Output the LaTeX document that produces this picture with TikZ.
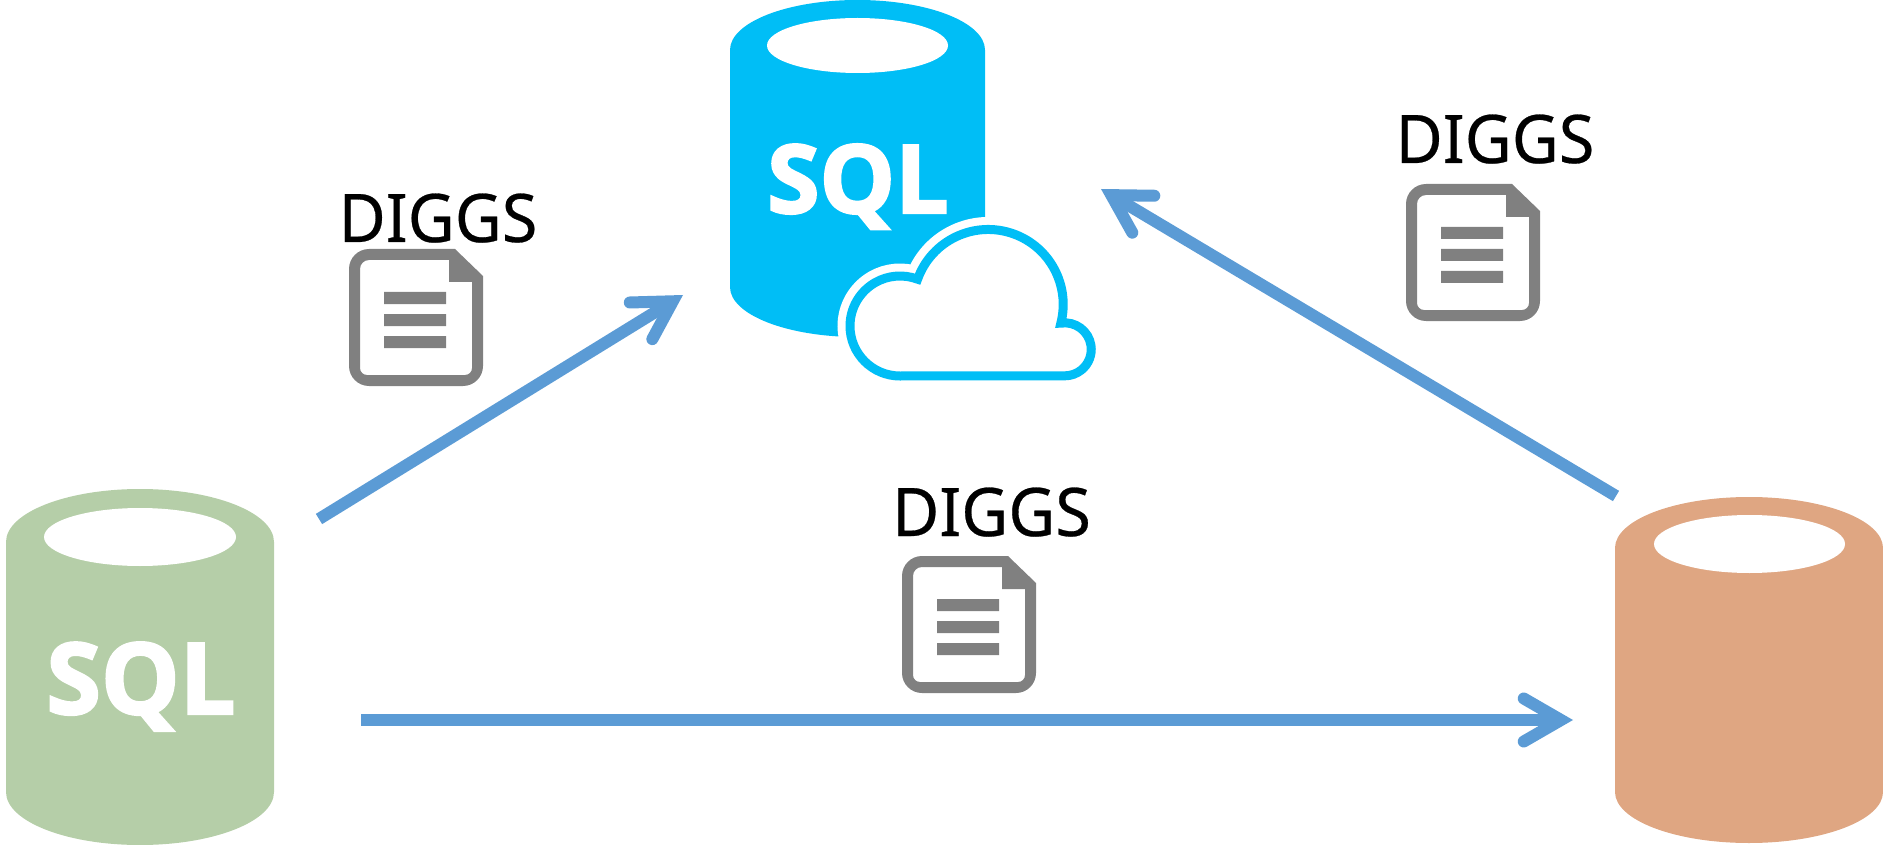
\documentclass[tikz,border=0pt]{standalone}
\usepackage{fontspec}
\setmainfont{Noto Sans}[FakeStretch=0.965,FakeBold=0.4]
\newfontfamily\sqlfont{Open Sans}[BoldFeatures={FakeBold=2.4}]
\usetikzlibrary{calc}
\definecolor{dbgreen}{HTML}{B5CEA8}
\definecolor{dbblue}{HTML}{00BEF6}
\definecolor{dborange}{HTML}{DFA682}
\definecolor{flowblue}{HTML}{5B9BD5}
\definecolor{docgray}{HTML}{808080}
\tikzset{
  x=1pt,y=1pt,
  sqltext/.style={inner sep=0pt,anchor=base,text=white,font=\sqlfont\bfseries},
  diggs/.style={inner sep=0pt,anchor=base,text=black,font=\fontsize{67}{67}\selectfont},
  flowline/.style={draw=flowblue,line width=12pt,line cap=butt},
  flowhead/.style={draw=flowblue,line width=12pt,line cap=round,line join=miter,miter limit=10},
  cloudline/.style={draw=dbblue,fill=white,line width=9pt,line join=miter,miter limit=10},
  cloudhalo/.style={draw=white,fill=white,line width=25pt,line join=miter,miter limit=10},
  docicon/.pic={
    \fill[docgray,even odd rule]
      (0,-20) arc[start angle=180,end angle=90,radius=20] -- (106,0) -- (134,-27) -- (134,-117)
      arc[start angle=0,end angle=-90,radius=20] -- (20,-137) arc[start angle=270,end angle=180,radius=20] -- cycle
      (11,-20) -- (11,-119) arc[start angle=180,end angle=270,radius=7] -- (116,-126)
      arc[start angle=270,end angle=360,radius=7] -- (123,-33) -- (100,-33) -- (100,-11) -- (20,-11)
      arc[start angle=90,end angle=180,radius=9] -- cycle;
    \fill[docgray] (35,-43) rectangle (97,-55) (35,-65) rectangle (97,-77) (35,-87) rectangle (97,-99);
  }
}
\newcommand{\cyl}[9]{% colour, left, right, top, shoulder, lower, holeL, holeR, holeCentre
  \fill[#1] (#2,-#5) arc[start angle=180,end angle=0,x radius={(#3-#2)/2},y radius={#5-#4}]
    -- (#3,-#6) arc[start angle=0,end angle=-180,x radius={(#3-#2)/2},y radius={#5-#4}] -- cycle;
  \fill[white] ({(#7+#8)/2},-#9) circle[x radius={(#8-#7)/2},y radius=29];
}
\begin{document}
\begin{tikzpicture}
\useasboundingbox (0,0) rectangle (1883,-845);
% cylinders
\cyl{dbgreen}{6}{274}{489}{542}{792}{44}{236}{537}
\cyl{dborange}{1615}{1883}{497}{548}{792}{1654}{1845}{544}
\fill[dbblue] (730,-50) arc[start angle=180,end angle=0,x radius=127.5,y radius=50]
  -- (985,-287) arc[start angle=0,end angle=-180,x radius=127.5,y radius=50] -- cycle;
\fill[white] (857.5,-45.5) circle[x radius=90.5,y radius=27.5];
% SQL labels
\node[sqltext] (sqlblue) at (858,-213) {\fontsize{95}{95}\selectfont SQL};
\node[sqltext] (sqlgreen) at (141,-714) {\fontsize{99}{99}\selectfont SQL};
% cloud
\def\cloudpath{(900,-376) arc[start angle=270,end angle=69.4,radius=50]
   arc[start angle=160.3,end angle=-14.4,radius=75]
   arc[start angle=98.5,end angle=-90,radius=26.5] -- cycle}
\path[cloudhalo] \cloudpath;
\path[cloudline] \cloudpath;
% documents and labels
\pic at (349,-249) {docicon};
\pic at (1406,-184) {docicon};
\pic at (902,-556) {docicon};
\node[diggs] (d1) at (438,-242) {DIGGS};
\node[diggs] (d2) at (1495,-163) {DIGGS};
\node[diggs] (d3) at (991.5,-536) {DIGGS};
% connector ends
\coordinate (greenout) at (319,-519);
\coordinate (cloudin) at (683,-295);
\coordinate (orangeup) at (1616,-496);
\coordinate (cloudin2) at (1101,-189);
\coordinate (greenright) at (361,-720);
\coordinate (orangein) at (1573,-720);
% connectors
\foreach \a/\b in {greenout/cloudin,orangeup/cloudin2,greenright/orangein}{
  \coordinate (v) at ($(\b)!12pt!(\a)$);
  \draw[flowline] (\a) -- (v);
  \draw[flowhead] ($(v)!43pt!30:(\a)$) -- (v) -- ($(v)!43pt!-30:(\a)$);
}
\end{tikzpicture}
\end{document}
